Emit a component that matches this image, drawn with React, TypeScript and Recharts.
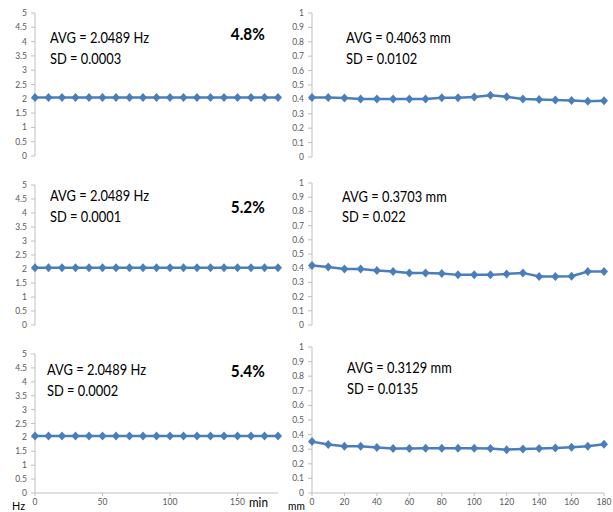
import { LineChart, Line, XAxis, YAxis } from 'recharts';

const minutes = [0, 10, 20, 30, 40, 50, 60, 70, 80, 90, 100, 110, 120, 130, 140, 150, 160, 170, 180];

// frequency (Hz), left column
const freqTop = [2.0489, 2.0492, 2.0488, 2.0486, 2.0491, 2.0489, 2.0493, 2.0487, 2.0489, 2.0485, 2.049, 2.0492, 2.0488, 2.0489, 2.0491, 2.0486, 2.0489, 2.0492, 2.0487];
const freqMid = [2.0489, 2.049, 2.0488, 2.0489, 2.049, 2.0489, 2.0488, 2.0489, 2.049, 2.0488, 2.0489, 2.049, 2.0489, 2.0488, 2.0489, 2.049, 2.0488, 2.0489, 2.049];
const freqBottom = [2.0489, 2.0491, 2.0487, 2.0489, 2.049, 2.0488, 2.0489, 2.0491, 2.0487, 2.0489, 2.049, 2.0488, 2.0489, 2.0491, 2.0487, 2.0489, 2.049, 2.0488, 2.0489];

// amplitude (mm), right column
const ampTop = [0.414, 0.414, 0.409, 0.402, 0.402, 0.402, 0.402, 0.402, 0.411, 0.411, 0.416, 0.428, 0.418, 0.402, 0.4, 0.395, 0.393, 0.388, 0.39];
const ampMid = [0.419, 0.409, 0.395, 0.395, 0.384, 0.376, 0.367, 0.367, 0.362, 0.353, 0.353, 0.353, 0.36, 0.367, 0.341, 0.341, 0.344, 0.376, 0.376];
const ampBottom = [0.352, 0.332, 0.32, 0.32, 0.311, 0.304, 0.304, 0.307, 0.307, 0.307, 0.307, 0.304, 0.297, 0.302, 0.304, 0.309, 0.313, 0.32, 0.334];

const freqTicks = [0, 0.5, 1, 1.5, 2, 2.5, 3, 3.5, 4, 4.5, 5];
const ampTicks = [0, 0.1, 0.2, 0.3, 0.4, 0.5, 0.6, 0.7, 0.8, 0.9, 1];
const minTicksLeft = [0, 50, 100, 150];
const minTicksRight = [0, 20, 40, 60, 80, 100, 120, 140, 160, 180];

const freqAvg = ['AVG = 2.0489 Hz', 'AVG = 2.0489 Hz', 'AVG = 2.0489 Hz'];
const freqSd = ['SD = 0.0003', 'SD = 0.0001', 'SD = 0.0002'];
const freqPct = ['4.8%', '5.2%', '5.4%'];
const ampAvg = ['AVG = 0.4063 mm', 'AVG = 0.3703 mm', 'AVG = 0.3129 mm'];
const ampSd = ['SD = 0.0102', 'SD = 0.022', 'SD = 0.0135'];

const BLUE = '#4A7EBB';
const AXIS = '#BFBFBF';
const TICK = '#595959';
const FONT = "Lato, 'Open Sans', sans-serif";

const Y_W = 34;
const PAD = 8;
const X_H = 22;

function diamond(props: any) {
  const { cx, cy, index } = props;
  if (cx == null || cy == null) return <g key={index} />;
  return (
    <path
      key={index}
      d={`M${cx},${cy - 4.5}L${cx + 4},${cy}L${cx},${cy + 4.5}L${cx - 4},${cy}Z`}
      fill={BLUE}
    />
  );
}

type PanelProps = {
  values: number[];
  x: number;
  y: number;
  w: number;
  h: number;
  yTicks: number[];
  xTicks: number[];
  showX: boolean;
};

function Panel({ values, x, y, w, h, yTicks, xTicks, showX }: PanelProps) {
  const data = minutes.map((t, i) => ({ t, v: values[i] }));
  const yMax = yTicks[yTicks.length - 1];
  return (
    <div style={{ position: 'absolute', left: x - Y_W, top: y - PAD }}>
      <LineChart
        width={w + Y_W + PAD}
        height={h + PAD + (showX ? X_H : PAD)}
        data={data}
        margin={{ top: PAD, right: PAD, left: 0, bottom: showX ? 0 : PAD }}
      >
        <XAxis
          type="number"
          dataKey="t"
          domain={[0, 180]}
          ticks={xTicks}
          interval={0}
          hide={!showX}
          height={X_H}
          tickSize={3}
          tickMargin={3}
          axisLine={{ stroke: AXIS }}
          tickLine={{ stroke: AXIS }}
          tick={{ fontSize: 8.5, fill: TICK, fontFamily: FONT }}
        />
        <YAxis
          type="number"
          domain={[0, yMax]}
          ticks={yTicks}
          interval={0}
          width={Y_W}
          tickSize={4}
          tickMargin={4}
          axisLine={{ stroke: AXIS }}
          tickLine={{ stroke: AXIS }}
          tick={{ fontSize: 8.5, fill: TICK, fontFamily: FONT }}
        />
        <Line
          type="linear"
          dataKey="v"
          stroke={BLUE}
          strokeWidth={2.5}
          dot={diamond}
          activeDot={false}
          isAnimationActive={false}
        />
      </LineChart>
    </div>
  );
}

function Txt({ x, cy, size, bold, right, squeeze = 1, children }: any) {
  const style: any = {
    position: 'absolute',
    top: cy - size * 0.6,
    fontSize: size,
    lineHeight: `${size * 1.2}px`,
    fontFamily: FONT,
    fontWeight: bold ? 700 : 400,
    color: '#000',
    whiteSpace: 'nowrap',
    transform: `scaleX(${squeeze})`,
    transformOrigin: right ? 'right center' : 'left center',
  };
  if (right) style.right = 613 - x;
  else style.left = x;
  return <div style={style}>{children}</div>;
}

export default function App() {
  const freqSeries = [freqTop, freqMid, freqBottom];
  const ampSeries = [ampTop, ampMid, ampBottom];
  const leftRows = [
    { y: 13, h: 143 },
    { y: 185, h: 140 },
    { y: 354, h: 139 },
  ];
  const rightRows = [
    { y: 13, h: 144 },
    { y: 183, h: 142 },
    { y: 347, h: 146 },
  ];
  const leftText = [
    { avg: [50, 37], sd: [50, 58], pct: 34 },
    { avg: [50, 195], sd: [50, 216], pct: 207 },
    { avg: [47, 369], sd: [47, 390], pct: 371 },
  ];
  const rightText = [
    { avg: [346, 37], sd: [346, 58] },
    { avg: [342, 196], sd: [342, 216] },
    { avg: [347, 367], sd: [347, 388] },
  ];
  return (
    <div style={{ position: 'absolute', left: 0, top: 0, width: 613, height: 512, background: '#fff', overflow: 'hidden' }}>
      {freqSeries.map((s, i) => (
        <Panel key={`f${i}`} values={s} x={35} y={leftRows[i].y} w={243} h={leftRows[i].h} yTicks={freqTicks} xTicks={minTicksLeft} showX={i === 2} />
      ))}
      {ampSeries.map((s, i) => (
        <Panel key={`a${i}`} values={s} x={312} y={rightRows[i].y} w={292} h={rightRows[i].h} yTicks={ampTicks} xTicks={minTicksRight} showX={i === 2} />
      ))}
      {leftText.map((t, i) => (
        <div key={`lt${i}`}>
          <Txt x={t.avg[0]} cy={t.avg[1]} size={15.5} squeeze={0.83}>{freqAvg[i]}</Txt>
          <Txt x={t.sd[0]} cy={t.sd[1]} size={15.5} squeeze={0.83}>{freqSd[i]}</Txt>
          <Txt x={265} cy={t.pct} size={17} bold right squeeze={0.9}>{freqPct[i]}</Txt>
        </div>
      ))}
      {rightText.map((t, i) => (
        <div key={`rt${i}`}>
          <Txt x={t.avg[0]} cy={t.avg[1]} size={15.5} squeeze={0.83}>{ampAvg[i]}</Txt>
          <Txt x={t.sd[0]} cy={t.sd[1]} size={15.5} squeeze={0.83}>{ampSd[i]}</Txt>
        </div>
      ))}
      <Txt x={12} cy={506} size={12} squeeze={0.9}>Hz</Txt>
      <Txt x={249} cy={503} size={13} squeeze={0.9}>min</Txt>
      <Txt x={288} cy={506} size={12} squeeze={0.85}>mm</Txt>
    </div>
  );
}
